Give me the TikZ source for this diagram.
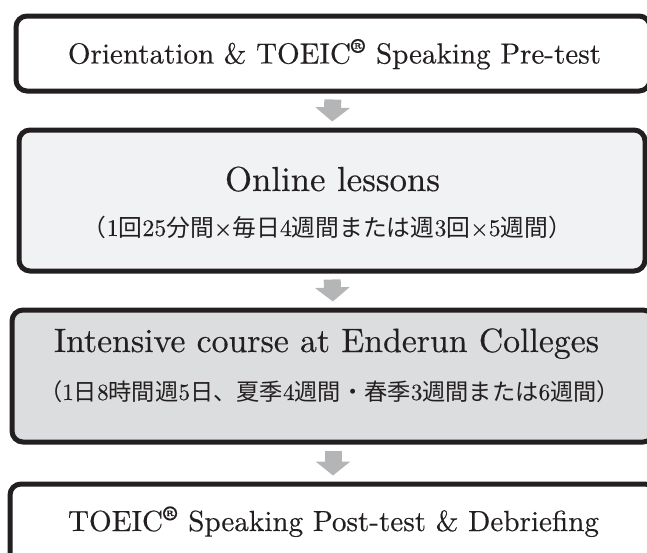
\documentclass[tikz,border=0pt]{standalone}
\usepackage{fontspec}
\usepackage{graphicx}
\setmainfont{Latin Modern Roman}[FakeBold=0.35]
\newfontfamily\jp{Noto Sans CJK JP}
\usetikzlibrary{arrows.meta}
\definecolor{edge}{HTML}{231F20}
\definecolor{lightfill}{HTML}{F1F2F4}
\definecolor{midfill}{HTML}{DCDDDF}
\definecolor{arrowgray}{HTML}{B4B5B7}
\newcommand{\regmark}{\textsuperscript{\bfseries\textregistered}}
\newcommand{\fitto}[2]{\resizebox{#1}{!}{#2}}
\begin{document}
\begin{tikzpicture}[x=1pt,y=-1pt,
  box/.style={draw=edge, line width=5pt, rounded corners=11pt, inner sep=0pt},
  flowarrow/.style={draw=arrowgray, line width=17pt, line cap=butt,
    -{Triangle[width=34pt,length=14pt]}, shorten <=6pt, shorten >=6pt},
  txt/.style={inner sep=0pt, anchor=base, text=edge}]
\clip (0,0) rectangle (647,552);
\node[box, fill=white, minimum width=634pt, minimum height=75pt] (b1) at (333,53.5) {};
\node[box, fill=lightfill, minimum width=626pt, minimum height=141pt] (b2) at (332,200.5) {};
\node[box, fill=midfill, minimum width=642pt, minimum height=132pt] (b3) at (333,376) {};
\node[box, fill=white, minimum width=646pt, minimum height=120pt] (b4) at (333,544) {};
\draw[flowarrow] (b1.south) -- (b2.north);
\draw[flowarrow] (b2.south) -- (b3.north);
\draw[flowarrow] (b3.south) -- (b4.north);
\node[txt] (t1) at (334.5,63.5) {\fitto{533pt}{Orientation \& TOEIC\regmark{} Speaking Pre-test}};
\node[txt] (t2) at (332.5,191) {\fitto{215pt}{Online lessons}};
\node[txt] (t2b) at (327.5,236) {\fitto{489pt}{{\jp （}1{\jp 回}25{\jp 分間}×{\jp 毎日}4{\jp 週間または週}3{\jp 回}×5{\jp 週間）}}};
\node[txt] (t3) at (326.5,352) {\fitto{545pt}{Intensive course at Enderun Colleges}};
\node[txt] (t3b) at (329.5,400) {\fitto{581pt}{{\jp （}1{\jp 日}8{\jp 時間週}5{\jp 日、夏季}4{\jp 週間・春季}3{\jp 週間または}6{\jp 週間）}}};
\node[txt] (t4) at (333.5,531) {\fitto{531pt}{TOEIC\regmark{} Speaking Post-test \& Debriefing}};
\end{tikzpicture}
\end{document}
